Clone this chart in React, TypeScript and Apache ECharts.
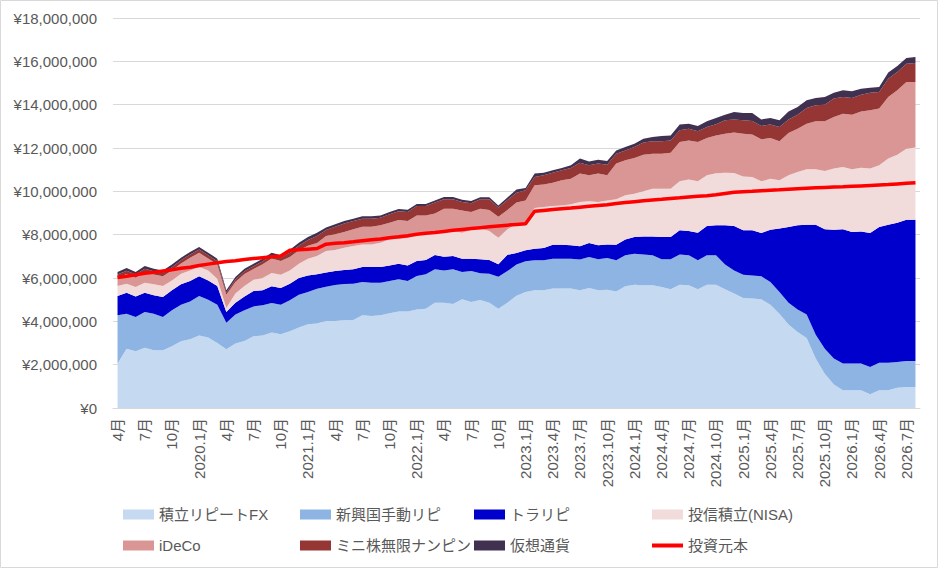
import React, { useEffect, useRef } from "react";
import * as echarts from "echarts";

// 2019.4 - 2026.8, monthly
const months = [
  "2019.4", "2019.5", "2019.6", "2019.7", "2019.8", "2019.9", "2019.10", "2019.11", "2019.12",
  "2020.1", "2020.2", "2020.3", "2020.4", "2020.5", "2020.6", "2020.7", "2020.8", "2020.9", "2020.10", "2020.11", "2020.12",
  "2021.1", "2021.2", "2021.3", "2021.4", "2021.5", "2021.6", "2021.7", "2021.8", "2021.9", "2021.10", "2021.11", "2021.12",
  "2022.1", "2022.2", "2022.3", "2022.4", "2022.5", "2022.6", "2022.7", "2022.8", "2022.9", "2022.10", "2022.11", "2022.12",
  "2023.1", "2023.2", "2023.3", "2023.4", "2023.5", "2023.6", "2023.7", "2023.8", "2023.9", "2023.10", "2023.11", "2023.12",
  "2024.1", "2024.2", "2024.3", "2024.4", "2024.5", "2024.6", "2024.7", "2024.8", "2024.9", "2024.10", "2024.11", "2024.12",
  "2025.1", "2025.2", "2025.3", "2025.4", "2025.5", "2025.6", "2025.7", "2025.8", "2025.9", "2025.10", "2025.11", "2025.12",
  "2026.1", "2026.2", "2026.3", "2026.4", "2026.5", "2026.6", "2026.7", "2026.8",
];

// values in 万円
const fxRepeat = [
  205, 274, 262, 278, 266, 266, 285, 308, 317,
  335, 325, 300, 271, 298, 309, 331, 335, 348, 340, 354, 372,
  386, 390, 402, 402, 405, 406, 428, 425, 428, 437, 445, 445,
  455, 458, 486, 486, 480, 502, 489, 498, 486, 458, 486, 518,
  535, 543, 543, 551, 551, 551, 543, 554, 543, 546, 538, 562,
  569, 566, 566, 558, 548, 569, 566, 548, 569, 569, 548, 528,
  508, 505, 502, 477, 435, 385, 351, 323, 228, 158, 108, 82,
  82, 82, 63, 82, 82, 94, 97, 97,
];
const emergingManual = [
  223, 161, 158, 165, 169, 154, 166, 169, 175,
  182, 175, 177, 123, 133, 142, 138, 139, 137, 137, 143, 151,
  149, 160, 158, 166, 167, 168, 154, 153, 150, 149, 149, 141,
  154, 159, 154, 149, 160, 126, 143, 124, 134, 148, 146, 144,
  142, 139, 139, 138, 138, 138, 142, 143, 143, 146, 144, 143,
  143, 143, 139, 128, 138, 139, 139, 134, 136, 136, 114, 107,
  107, 107, 106, 105, 100, 101, 104, 108, 110, 116, 120, 123,
  123, 123, 126, 127, 127, 118, 120, 120,
];
const trapRepeat = [
  89, 97, 95, 89, 85, 92, 92, 94, 94,
  91, 89, 86, 49, 55, 64, 71, 69, 77, 77, 77, 77,
  77, 67, 65, 64, 65, 66, 69, 73, 73, 72, 72, 72,
  69, 66, 66, 63, 62, 61, 57, 64, 63, 57, 75, 53,
  51, 53, 56, 65, 65, 62, 61, 65, 65, 63, 72, 73,
  77, 83, 87, 103, 103, 112, 112, 127, 135, 138, 181, 205,
  205, 208, 200, 241, 293, 349, 388, 415, 508, 551, 595, 620,
  607, 610, 619, 626, 637, 643, 652, 652,
];
const nisaFunds = [
  46, 42, 43, 46, 51, 51, 46, 49, 49,
  43, 46, 34, 19, 42, 48, 52, 57, 61, 61, 61, 66,
  77, 85, 100, 97, 103, 108, 104, 104, 112, 120, 114, 127,
  124, 126, 106, 119, 115, 120, 133, 142, 134, 123, 118, 135,
  127, 188, 190, 178, 181, 189, 205, 192, 200, 203, 209, 204,
  200, 208, 220, 223, 223, 226, 238, 237, 234, 240, 243, 245,
  249, 246, 238, 235, 223, 239, 246, 256, 256, 269, 282, 287,
  290, 294, 297, 285, 305, 314, 328, 333,
];
const ideco = [
  38, 45, 43, 50, 45, 45, 46, 47, 58,
  65, 55, 65, 61, 53, 56, 50, 63, 67, 63, 62, 62,
  60, 60, 69, 73, 72, 77, 82, 82, 80, 77, 88, 78,
  87, 80, 86, 103, 103, 103, 83, 92, 97, 97, 89, 99,
  103, 105, 103, 108, 116, 118, 131, 120, 131, 116, 165, 161,
  165, 169, 162, 162, 166, 182, 180, 182, 172, 175, 180, 186,
  197, 196, 194, 188, 180, 195, 200, 210, 221, 229, 238, 246,
  252, 260, 269, 262, 284, 297, 308, 303,
];
const miniStock = [
  15, 15, 15, 15, 15, 15, 15, 15, 15,
  15, 15, 15, 10, 12, 12, 12, 14, 15, 15, 20, 22,
  26, 32, 28, 35, 40, 38, 37, 37, 35, 39, 40, 42,
  43, 43, 50, 43, 43, 39, 40, 43, 49, 42, 46, 44,
  47, 38, 43, 46, 46, 50, 50, 46, 46, 49, 46, 46,
  51, 56, 57, 57, 57, 54, 54, 49, 51, 52, 62, 61,
  62, 63, 62, 62, 66, 63, 65, 73, 74, 77, 85, 77,
  77, 77, 81, 76, 85, 85, 84, 87,
];
const crypto = [
  12, 12, 12, 12, 12, 12, 12, 12, 12,
  12, 12, 12, 10, 12, 12, 12, 12, 12, 12, 13, 13,
  14, 15, 11, 11, 11, 11, 11, 11, 11, 11, 11, 10,
  10, 10, 10, 11, 11, 10, 10, 10, 10, 10, 12, 15,
  10, 16, 12, 11, 11, 12, 19, 18, 18, 17, 15, 16,
  15, 18, 20, 24, 23, 26, 23, 25, 26, 28, 26, 34,
  34, 37, 30, 30, 31, 37, 35, 35, 34, 35, 27, 31,
  31, 28, 23, 24, 28, 27, 26, 28,
];
const principal = [
  602, 608, 615, 622, 626, 632, 638, 645, 650,
  658, 664, 670, 676, 680, 685, 690, 694, 698, 702, 728, 730,
  733, 736, 756, 760, 763, 767, 772, 776, 780, 786, 790, 795,
  802, 806, 810, 815, 820, 824, 828, 832, 836, 840, 844, 847,
  850, 908, 912, 916, 920, 923, 927, 931, 935, 938, 944, 948,
  952, 956, 960, 963, 967, 970, 974, 977, 980, 984, 990, 996,
  998, 1000, 1003, 1005, 1007, 1010, 1012, 1014, 1016, 1018, 1020, 1021,
  1023, 1025, 1027, 1029, 1031, 1034, 1037, 1040,
];

const areaSeries = [
  { name: "積立リピートFX", data: fxRepeat, color: "#C5D9F1" },
  { name: "新興国手動リピ", data: emergingManual, color: "#8DB4E2" },
  { name: "トラリピ", data: trapRepeat, color: "#0000CC" },
  { name: "投信積立(NISA)", data: nisaFunds, color: "#F2DCDB" },
  { name: "iDeCo", data: ideco, color: "#DA9694" },
  { name: "ミニ株無限ナンピン", data: miniStock, color: "#963634" },
  { name: "仮想通貨", data: crypto, color: "#403151" },
];

const FONT = '"Liberation Sans", "Noto Sans CJK JP", sans-serif';
const GRAY = "#595959";

const legendSlots = [
  { name: "積立リピートFX", left: 123, top: 507 },
  { name: "新興国手動リピ", left: 300, top: 507 },
  { name: "トラリピ", left: 474, top: 507 },
  { name: "投信積立(NISA)", left: 652, top: 507 },
  { name: "iDeCo", left: 123, top: 538 },
  { name: "ミニ株無限ナンピン", left: 300, top: 538 },
  { name: "仮想通貨", left: 474, top: 538 },
  { name: "投資元本", left: 652, top: 538 },
];

const App: React.FC = () => {
  const chartRef = useRef<HTMLDivElement>(null);

  useEffect(() => {
    if (!chartRef.current) return;
    const chart = echarts.init(chartRef.current, undefined, { renderer: "svg" });

    const option = {
      animation: false,
      backgroundColor: "#FFFFFF",
      grid: { left: 113, right: 18, top: 18, bottom: 160 },
      graphic: [
        {
          type: "rect",
          silent: true,
          shape: { x: 0.5, y: 0.5, width: 937, height: 567 },
          style: { fill: "none", stroke: "#D9D9D9", lineWidth: 1 },
        },
      ],
      legend: legendSlots.map((s) => {
        const isLine = s.name === "投資元本";
        return {
          data: [s.name],
          left: s.left,
          top: s.top,
          padding: 0,
          icon: "rect",
          itemWidth: 31,
          itemHeight: isLine ? 4 : 10,
          selectedMode: false,
          textStyle: { color: GRAY, fontSize: 15, fontFamily: FONT },
        };
      }),
      xAxis: {
        type: "category",
        data: months,
        boundaryGap: true,
        axisLine: { lineStyle: { color: "#D9D9D9" } },
        axisTick: { show: false },
        axisLabel: {
          interval: 2,
          rotate: 90,
          margin: 10,
          color: GRAY,
          fontSize: 15,
          fontFamily: FONT,
          formatter: (v: string) => {
            const [y, m] = v.split(".");
            return Number(y) >= 2023 || m === "1" ? `${v}月` : `${m}月`;
          },
        },
      },
      yAxis: {
        type: "value",
        min: 0,
        max: 1800,
        interval: 200,
        axisLine: { show: false },
        axisTick: { show: false },
        splitLine: { lineStyle: { color: "#D9D9D9" } },
        axisLabel: {
          margin: 16,
          color: GRAY,
          fontSize: 15,
          fontFamily: FONT,
          formatter: (v: number) => "¥" + (v * 10000).toLocaleString("en-US"),
        },
      },
      series: [
        ...areaSeries.map((s) => ({
          name: s.name,
          type: "line",
          stack: "total",
          data: s.data,
          symbol: "none",
          color: s.color,
          itemStyle: { color: s.color },
          lineStyle: { width: 0, color: s.color },
          areaStyle: { color: s.color, opacity: 1 },
        })),
        {
          name: "投資元本",
          type: "line",
          data: principal,
          symbol: "none",
          z: 10,
          color: "#FF0000",
          itemStyle: { color: "#FF0000" },
          lineStyle: { width: 3.5, color: "#FF0000" },
        },
      ],
    };

    chart.setOption(option);

    return () => {
      chart.dispose();
    };
  }, []);

  return (
    <div
      ref={chartRef}
      style={{ position: "fixed", left: 0, top: 0, width: "938px", height: "568px" }}
    />
  );
};

export default App;
